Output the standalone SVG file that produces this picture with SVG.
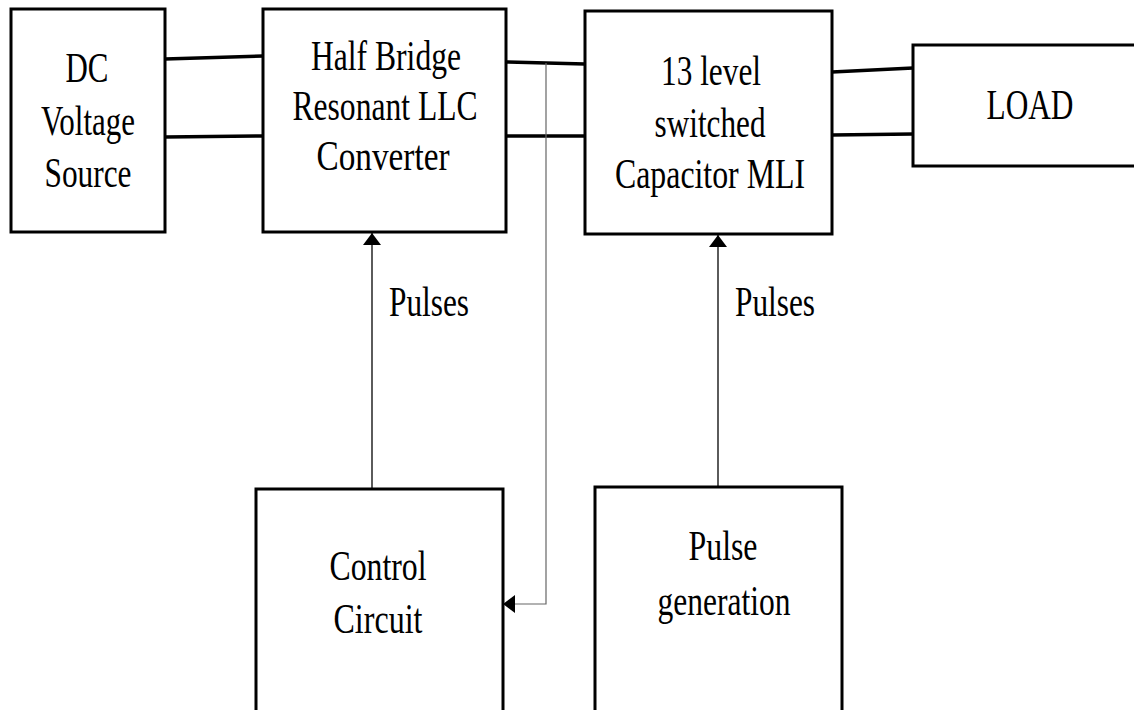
<svg xmlns="http://www.w3.org/2000/svg" width="1134" height="710" viewBox="0 0 1134 710">
<defs>
<style>
.box{fill:#fff;stroke:#000;stroke-width:3}
.t{font-family:"Liberation Serif","Times New Roman",serif;font-size:42px;fill:#000;text-anchor:middle}
.bus{stroke:#000;stroke-width:3.5;fill:none}
.sig{stroke:#333;stroke-width:1.6;fill:none}
.fb{stroke:#666;stroke-width:1.2;fill:none}
</style>
<marker id="ah" viewBox="0 0 12 18" refX="12" refY="9" markerWidth="12" markerHeight="18" markerUnits="userSpaceOnUse" orient="auto">
<path d="M0,0 L12,9 L0,18 Z" fill="#000"/>
</marker>
</defs>
<rect width="1134" height="710" fill="#fff"/>
<g id="connectors">
<line class="bus" x1="165" y1="59" x2="263" y2="56"/>
<line class="bus" x1="165" y1="137" x2="263" y2="136"/>
<line class="bus" x1="506" y1="62" x2="585" y2="64"/>
<line class="bus" x1="506" y1="136" x2="585" y2="136"/>
<line class="bus" x1="832" y1="72" x2="913" y2="68"/>
<line class="bus" x1="832" y1="135" x2="913" y2="134"/>
<line class="sig" x1="372" y1="488" x2="372" y2="233" marker-end="url(#ah)"/>
<line class="sig" x1="718" y1="487" x2="718" y2="235" marker-end="url(#ah)"/>
<polyline class="fb" points="546,63 546,604 503,604" marker-end="url(#ah)"/>
<text class="t" x="429" y="316" textLength="80" lengthAdjust="spacingAndGlyphs">Pulses</text>
<text class="t" x="775" y="316" textLength="80" lengthAdjust="spacingAndGlyphs">Pulses</text>
</g>
<g id="dc-source">
<rect class="box" x="11" y="9" width="154" height="223"/>
<text class="t" x="87" y="82" textLength="43" lengthAdjust="spacingAndGlyphs">DC</text>
<text class="t" x="88" y="135" textLength="94" lengthAdjust="spacingAndGlyphs">Voltage</text>
<text class="t" x="88" y="187" textLength="87" lengthAdjust="spacingAndGlyphs">Source</text>
</g>
<g id="llc-converter">
<rect class="box" x="263" y="9" width="243" height="223"/>
<text class="t" x="386" y="70" textLength="150" lengthAdjust="spacingAndGlyphs">Half Bridge</text>
<text class="t" x="385" y="120" textLength="185" lengthAdjust="spacingAndGlyphs">Resonant LLC</text>
<text class="t" x="383" y="170" textLength="133" lengthAdjust="spacingAndGlyphs">Converter</text>
</g>
<g id="mli">
<rect class="box" x="585" y="11" width="247" height="223"/>
<text class="t" x="711" y="85" textLength="100" lengthAdjust="spacingAndGlyphs">13 level</text>
<text class="t" x="710" y="137" textLength="111" lengthAdjust="spacingAndGlyphs">switched</text>
<text class="t" x="710" y="188" textLength="190" lengthAdjust="spacingAndGlyphs">Capacitor MLI</text>
</g>
<g id="load">
<rect class="box" x="913" y="45" width="230" height="121"/>
<text class="t" x="1030" y="119" textLength="87" lengthAdjust="spacingAndGlyphs">LOAD</text>
</g>
<g id="control-circuit">
<rect class="box" x="256" y="489" width="247" height="240"/>
<text class="t" x="378" y="580" textLength="97" lengthAdjust="spacingAndGlyphs">Control</text>
<text class="t" x="378" y="633" textLength="89" lengthAdjust="spacingAndGlyphs">Circuit</text>
</g>
<g id="pulse-generation">
<rect class="box" x="595" y="487" width="247" height="240"/>
<text class="t" x="723" y="560" textLength="69" lengthAdjust="spacingAndGlyphs">Pulse</text>
<text class="t" x="724" y="615" textLength="133" lengthAdjust="spacingAndGlyphs">generation</text>
</g>
</svg>
